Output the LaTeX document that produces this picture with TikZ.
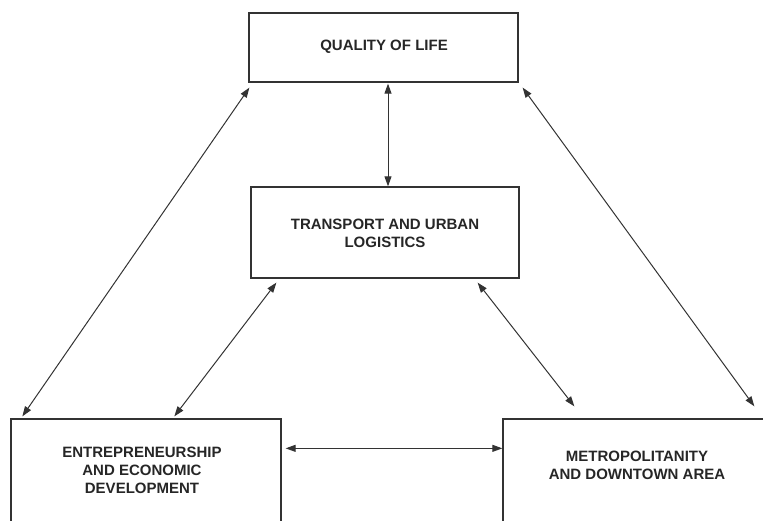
\documentclass[tikz,border=0pt]{standalone}
\usepackage{fontspec}
\setmainfont{Liberation Sans}
\usetikzlibrary{arrows.meta,calc}
\begin{document}
\begin{tikzpicture}[x=1pt,y=-1pt,
  box/.style={draw=black!80,line width=1.3pt,rectangle,inner sep=0pt},
  lbl/.style={align=center,font=\fontsize{15}{18}\selectfont\bfseries,text=black!85,inner sep=0pt},
  link/.style={draw=black!80,line width=1pt,{Triangle[length=10pt,width=7pt]}-{Triangle[length=10pt,width=7pt]}}]
\useasboundingbox (0,0) rectangle (763,521);
\clip (0,0) rectangle (763,521);
\node[box,minimum width=269pt,minimum height=69pt] (q) at (383.5,47.5) {};
\node[lbl] (qt) at (384,47) {QUALITY OF LIFE};
\node[box,minimum width=268pt,minimum height=91pt] (t) at (385,232.5) {};
\node[lbl] (tt) at (385,233) {TRANSPORT AND URBAN\\LOGISTICS};
\node[box,minimum width=270pt,minimum height=124pt] (e) at (146,481) {};
\node[lbl] (et) at (142,470) {ENTREPRENEURSHIP\\AND ECONOMIC\\DEVELOPMENT};
\node[box,minimum width=280pt,minimum height=124pt] (m) at (643,481) {};
\node[lbl] (mt) at (637,465) {METROPOLITANITY\\AND DOWNTOWN AREA};
\draw[link] ($(q.south west)+(1,5)$) -- ($(e.north west)+(12,-2)$);
\draw[link] ($(q.south)+(4.5,1)$) -- ($(t.north)+(3,0)$);
\draw[link] ($(q.south east)+(4,5)$) -- ($(m.north west)+(252,-12)$);
\draw[link] ($(t.south west)+(26,4)$) -- ($(e.north west)+(164,-2)$);
\draw[link] ($(t.south east)+(-42,4)$) -- ($(m.north west)+(72,-12)$);
\draw[link] ($(e.north east)+(4,30)$) -- ($(m.north west)+(0,30)$);
\end{tikzpicture}
\end{document}
